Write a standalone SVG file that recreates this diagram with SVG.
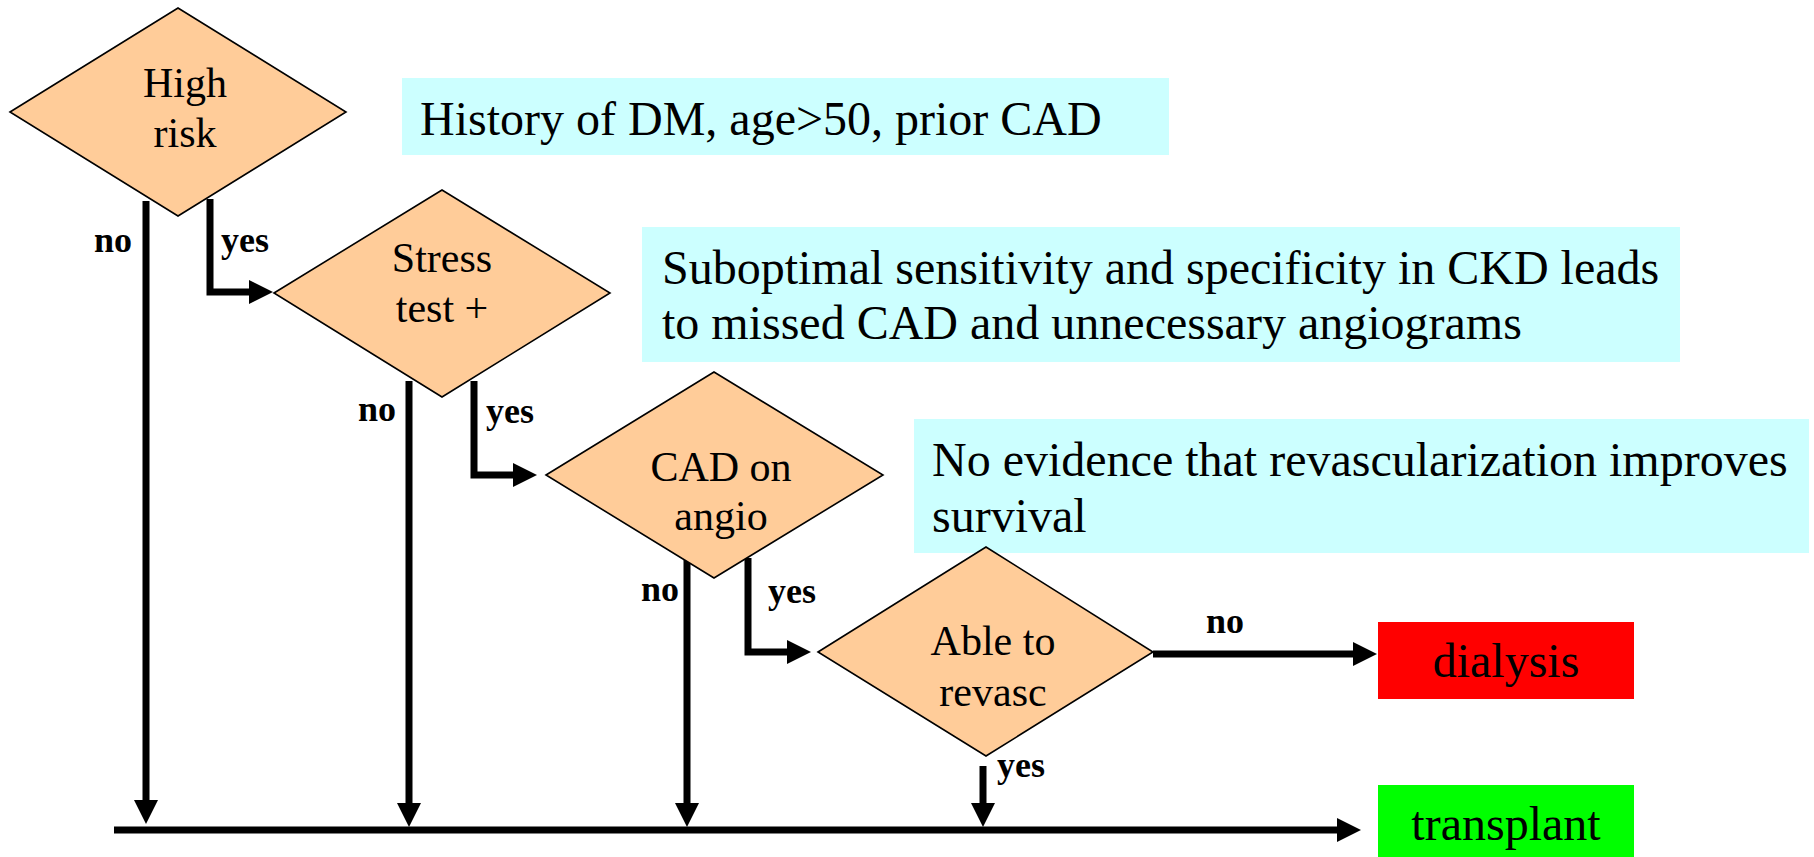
<svg xmlns="http://www.w3.org/2000/svg" width="1814" height="857" viewBox="0 0 1814 857" font-family="Liberation Serif">
<style>
.dia{fill:#FFCC99;stroke:#000;stroke-width:1.6}
.note{fill:#CCFFFF}
.dt{font-size:42px;text-anchor:middle}
.nt{font-size:48px}
.lab{font-weight:bold;font-size:36px}
.c{fill:none;stroke:#000;stroke-width:7}
</style>
<defs>
<marker id="ah" markerUnits="userSpaceOnUse" markerWidth="24" markerHeight="24" refX="4" refY="12" orient="auto">
<path d="M0,0 L24,12 L0,24 z" fill="#000"/>
</marker>
</defs>
<rect width="1814" height="857" fill="#fff"/>

<g id="note-history">
<rect class="note" x="402" y="78" width="767" height="77"/>
<text class="nt" x="420" y="135">History of DM, age&gt;50, prior CAD</text>
</g>
<g id="note-stress">
<rect class="note" x="642" y="227" width="1038" height="135"/>
<text class="nt" x="662" y="284">Suboptimal sensitivity and specificity in CKD leads</text>
<text class="nt" x="662" y="339">to missed CAD and unnecessary angiograms</text>
</g>
<g id="note-revasc">
<rect class="note" x="914" y="419" width="895" height="134"/>
<text class="nt" x="932" y="476">No evidence that revascularization improves</text>
<text class="nt" x="932" y="532">survival</text>
</g>

<g id="connectors">
<path class="c" d="M146,201 V804" marker-end="url(#ah)"/>
<path class="c" d="M210,199 V292 H253" marker-end="url(#ah)"/>
<path class="c" d="M409,381 V807" marker-end="url(#ah)"/>
<path class="c" d="M474,381 V475 H517" marker-end="url(#ah)"/>
<path class="c" d="M687,558 V807" marker-end="url(#ah)"/>
<path class="c" d="M748,558 V652 H791" marker-end="url(#ah)"/>
<path class="c" d="M1153,654 H1357" marker-end="url(#ah)"/>
<path class="c" d="M983,766 V807" marker-end="url(#ah)"/>
<path class="c" d="M114,830 H1341" marker-end="url(#ah)"/>
</g>

<g id="node-highrisk">
<polygon class="dia" points="10,112 178,8 346,112 178,216"/>
<text class="dt" x="185" y="97">High</text>
<text class="dt" x="185" y="147">risk</text>
</g>
<g id="node-stress">
<polygon class="dia" points="274,293 442,190 610,293 442,397"/>
<text class="dt" x="442" y="272">Stress</text>
<text class="dt" x="442" y="322">test +</text>
</g>
<g id="node-cad">
<polygon class="dia" points="546,475 714,372 883,475 714,578"/>
<text class="dt" x="721" y="481">CAD on</text>
<text class="dt" x="721" y="530">angio</text>
</g>
<g id="node-able">
<polygon class="dia" points="818,652 986,547 1153,652 986,756"/>
<text class="dt" x="993" y="655">Able to</text>
<text class="dt" x="993" y="706">revasc</text>
</g>
<g id="node-dialysis">
<rect x="1378" y="622" width="256" height="77" fill="#FF0000"/>
<text class="nt" x="1506" y="677" text-anchor="middle">dialysis</text>
</g>
<g id="node-transplant">
<rect x="1378" y="785" width="256" height="72" fill="#00FF00"/>
<text class="nt" x="1506" y="840" text-anchor="middle">transplant</text>
</g>

<g id="labels">
<text class="lab" x="94" y="252">no</text>
<text class="lab" x="221" y="252">yes</text>
<text class="lab" x="358" y="421">no</text>
<text class="lab" x="486" y="423">yes</text>
<text class="lab" x="641" y="601">no</text>
<text class="lab" x="768" y="603">yes</text>
<text class="lab" x="1206" y="633">no</text>
<text class="lab" x="997" y="777">yes</text>
</g>
</svg>
